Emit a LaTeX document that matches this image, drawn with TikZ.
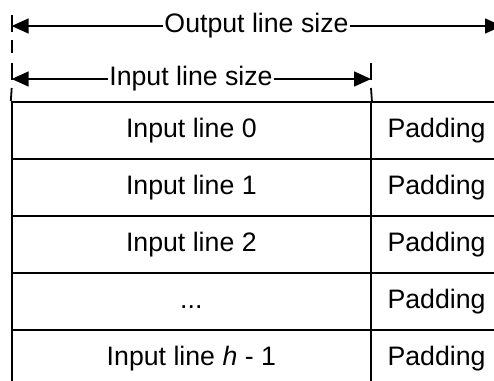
\documentclass[tikz,border=0pt]{standalone}
\usepackage{fontspec}
\setmainfont{Liberation Sans}
\usetikzlibrary{arrows.meta}
\begin{document}
\begin{tikzpicture}[x=1pt,y=-1pt,
  rule/.style={line width=1.8pt},
  dim/.style={line width=1.6pt,-{Triangle[length=17pt,width=15pt]}},
  txt/.style={font=\fontsize{26.7}{32}\selectfont,text height=19.5pt,text depth=5.6pt},
  dimlabel/.style={txt,fill=white,inner sep=1pt},
  cell/.style={txt,draw,line width=1.8pt,minimum height=57pt,inner sep=0pt},
  incell/.style={cell,minimum width=359.3pt},
  padcell/.style={cell,minimum width=131pt}]
  \clip (0,0) rectangle (494,380);

  % table of input lines with their padding
  \foreach \i/\t in {0/{Input line 0},1/{Input line 1},2/{Input line 2},3/{...},4/{Input line \textit{h} - 1}} {
    \node[incell] (in\i) at (191.35,{130.5+57*\i}) {\t};
    \node[padcell] (pad\i) at (436.5,{130.5+57*\i}) {Padding};
  }

  % broken extension lines above the table
  \draw[rule] (11.7,15) -- (11.7,32);
  \draw[rule] (11.7,40) -- (11.7,53);
  \draw[rule] (11.7,63) -- (11.7,80);
  \draw[rule] (11.7,88) -- (in0.north west);
  \draw[rule] (371,63) -- (371,80);
  \draw[rule] (371,88) -- (in0.north east);

  % dimension arrows
  \coordinate (oL) at (11.7,26);
  \coordinate (oR) at (502,26);
  \coordinate (iL) at (11.7,79);
  \coordinate (iR) at (371,79);
  \node[dimlabel] (olab) at (256.5,26) {Output line size};
  \node[dimlabel] (ilab) at (191,79) {Input line size};
  \draw[dim] (olab) -- (oL);
  \draw[dim] (olab) -- (oR);
  \draw[dim] (ilab) -- (iL);
  \draw[dim] (ilab) -- (iR);
\end{tikzpicture}
\end{document}
